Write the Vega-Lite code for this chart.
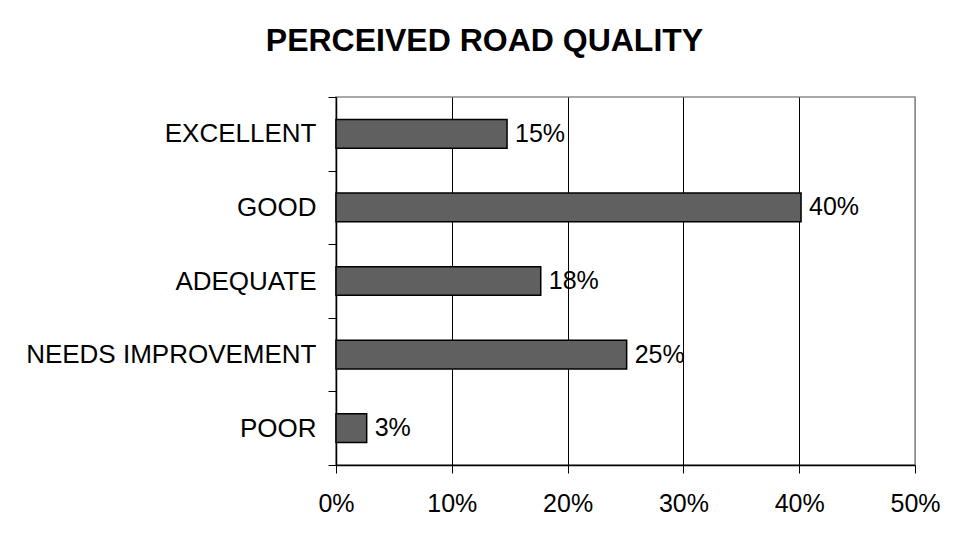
{
  "$schema": "https://vega.github.io/schema/vega-lite/v6.json",
  "autosize": "none",
  "width": 579,
  "height": 368,
  "padding": {"left": 336, "top": 97, "right": 47, "bottom": 83},
  "background": "white",
  "title": {
    "text": "PERCEIVED ROAD QUALITY",
    "font": "Liberation Sans",
    "fontSize": 32,
    "fontWeight": "bold",
    "color": "black",
    "anchor": "middle",
    "frame": "group",
    "dx": -141,
    "offset": 1,
    "baseline": "alphabetic"
  },
  "config": {
    "view": {"stroke": "#8c8c8c", "strokeWidth": 1.5},
    "axis": {
      "labelFont": "Liberation Sans",
      "labelFontSize": 25,
      "labelColor": "black",
      "domainColor": "black",
      "tickColor": "black",
      "domainWidth": 1.5,
      "tickWidth": 1,
      "tickSize": 8,
      "title": null
    }
  },
  "data": {
    "values": [
      {"rating": "EXCELLENT", "share": 0.1477},
      {"rating": "GOOD", "share": 0.4016},
      {"rating": "ADEQUATE", "share": 0.1768},
      {"rating": "NEEDS IMPROVEMENT", "share": 0.251},
      {"rating": "POOR", "share": 0.0265}
    ]
  },
  "encoding": {
    "y": {
      "field": "rating",
      "type": "nominal",
      "sort": null,
      "scale": {"paddingInner": 0, "paddingOuter": 0},
      "axis": {
        "tickBand": "extent",
        "grid": false,
        "labelPadding": 12,
        "labelLimit": 0,
        "labelFontSize": 26
      }
    },
    "x": {
      "field": "share",
      "type": "quantitative",
      "scale": {"domain": [0, 0.5], "nice": false},
      "axis": {
        "format": ".0%",
        "values": [0, 0.1, 0.2, 0.3, 0.4, 0.5],
        "grid": true,
        "gridColor": {"condition": {"test": "datum.value >= 0.5", "value": "#8c8c8c"}, "value": "black"},
        "gridOpacity": 1,
        "gridWidth": 1,
        "labelPadding": 18,
        "labelFlush": false
      }
    }
  },
  "layer": [
    {
      "mark": {"type": "bar", "height": {"band": 0.39}, "fill": "#606060", "stroke": "black", "strokeWidth": 1.5}
    },
    {
      "mark": {
        "type": "text",
        "align": "left",
        "baseline": "middle",
        "dx": 8,
        "font": "Liberation Sans",
        "fontSize": 25,
        "color": "black"
      },
      "encoding": {
        "text": {"field": "share", "type": "quantitative", "format": ".0%"}
      }
    }
  ]
}
